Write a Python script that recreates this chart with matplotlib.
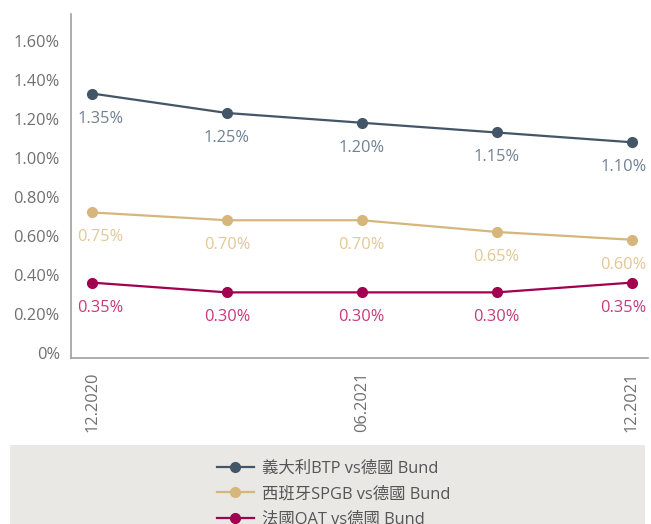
import matplotlib.pyplot as plt
from matplotlib.patches import Rectangle

plt.rcParams['font.family'] = ['Open Sans', 'Noto Sans CJK TC', 'DejaVu Sans']

# data
periods = ['12.2020', '', '06.2021', '', '12.2021']
series_names = ['義大利BTP vs德國 Bund', '西班牙SPGB vs德國 Bund', '法國OAT vs德國 Bund']
btp = [1.33, 1.23, 1.18, 1.13, 1.08]
spgb = [0.72, 0.68, 0.68, 0.62, 0.58]
oat = [0.36, 0.31, 0.31, 0.31, 0.36]
btp_labels = ['1.35%', '1.25%', '1.20%', '1.15%', '1.10%']
spgb_labels = ['0.75%', '0.70%', '0.70%', '0.65%', '0.60%']
oat_labels = ['0.35%', '0.30%', '0.30%', '0.30%', '0.35%']
yticks = [0, 0.2, 0.4, 0.6, 0.8, 1.0, 1.2, 1.4, 1.6]

LINE_COLORS = ['#435668', '#d6b67c', '#a0004f']
LABEL_COLORS = ['#6f8193', '#e3c795', '#c53a7c']
GRAY = '#707070'
FS = 11.8

fig = plt.figure(figsize=(6.51, 5.24), dpi=100)
ax = fig.add_axes([0.109, 0.317, 0.886, 0.656])

x = list(range(len(periods)))
all_vals = [btp, spgb, oat]
all_labels = [btp_labels, spgb_labels, oat_labels]

for vals, labs, name, lc, tc in zip(all_vals, all_labels, series_names, LINE_COLORS, LABEL_COLORS):
    ax.plot(x, vals, color=lc, lw=1.6, marker='o', ms=7, label=name)
    for i, (v, s) in enumerate(zip(vals, labs)):
        dx = 0
        if i == 0:
            dx = 6
        elif i == len(vals) - 1:
            dx = -6
        ax.annotate(s, (i, v), xytext=(dx, -18), textcoords='offset points',
                    ha='center', va='center', color=tc, fontsize=FS)

ax.set_xlim(-0.156, 4.12)
ax.set_ylim(-0.026, 1.737)
ax.set_yticks(yticks)
ax.set_yticklabels(['0%'] + [f'{t:.2f}%' for t in yticks[1:]])
ax.set_xticks(x)
ax.set_xticklabels(periods, rotation=90)
ax.tick_params(length=0, colors=GRAY, labelsize=FS, pad=10)
ax.tick_params(axis='y', pad=8)

for side in ['top', 'right']:
    ax.spines[side].set_visible(False)
for side in ['left', 'bottom']:
    ax.spines[side].set_color('#a0a0a0')
    ax.spines[side].set_linewidth(1.2)

# gray legend box at the bottom
fig.patches.append(Rectangle((10 / 651, 0), 635 / 651, 79 / 524,
                             transform=fig.transFigure, facecolor='#eae8e4',
                             edgecolor='none', zorder=0))
leg = fig.legend(loc='upper left', bbox_to_anchor=(210 / 651, 70 / 524),
                 frameon=False, fontsize=FS, handlelength=2.3,
                 labelspacing=0.58, handletextpad=0.5, borderaxespad=0)
for t in leg.get_texts():
    t.set_color('#555555')

fig.savefig('out.png', dpi=100)
